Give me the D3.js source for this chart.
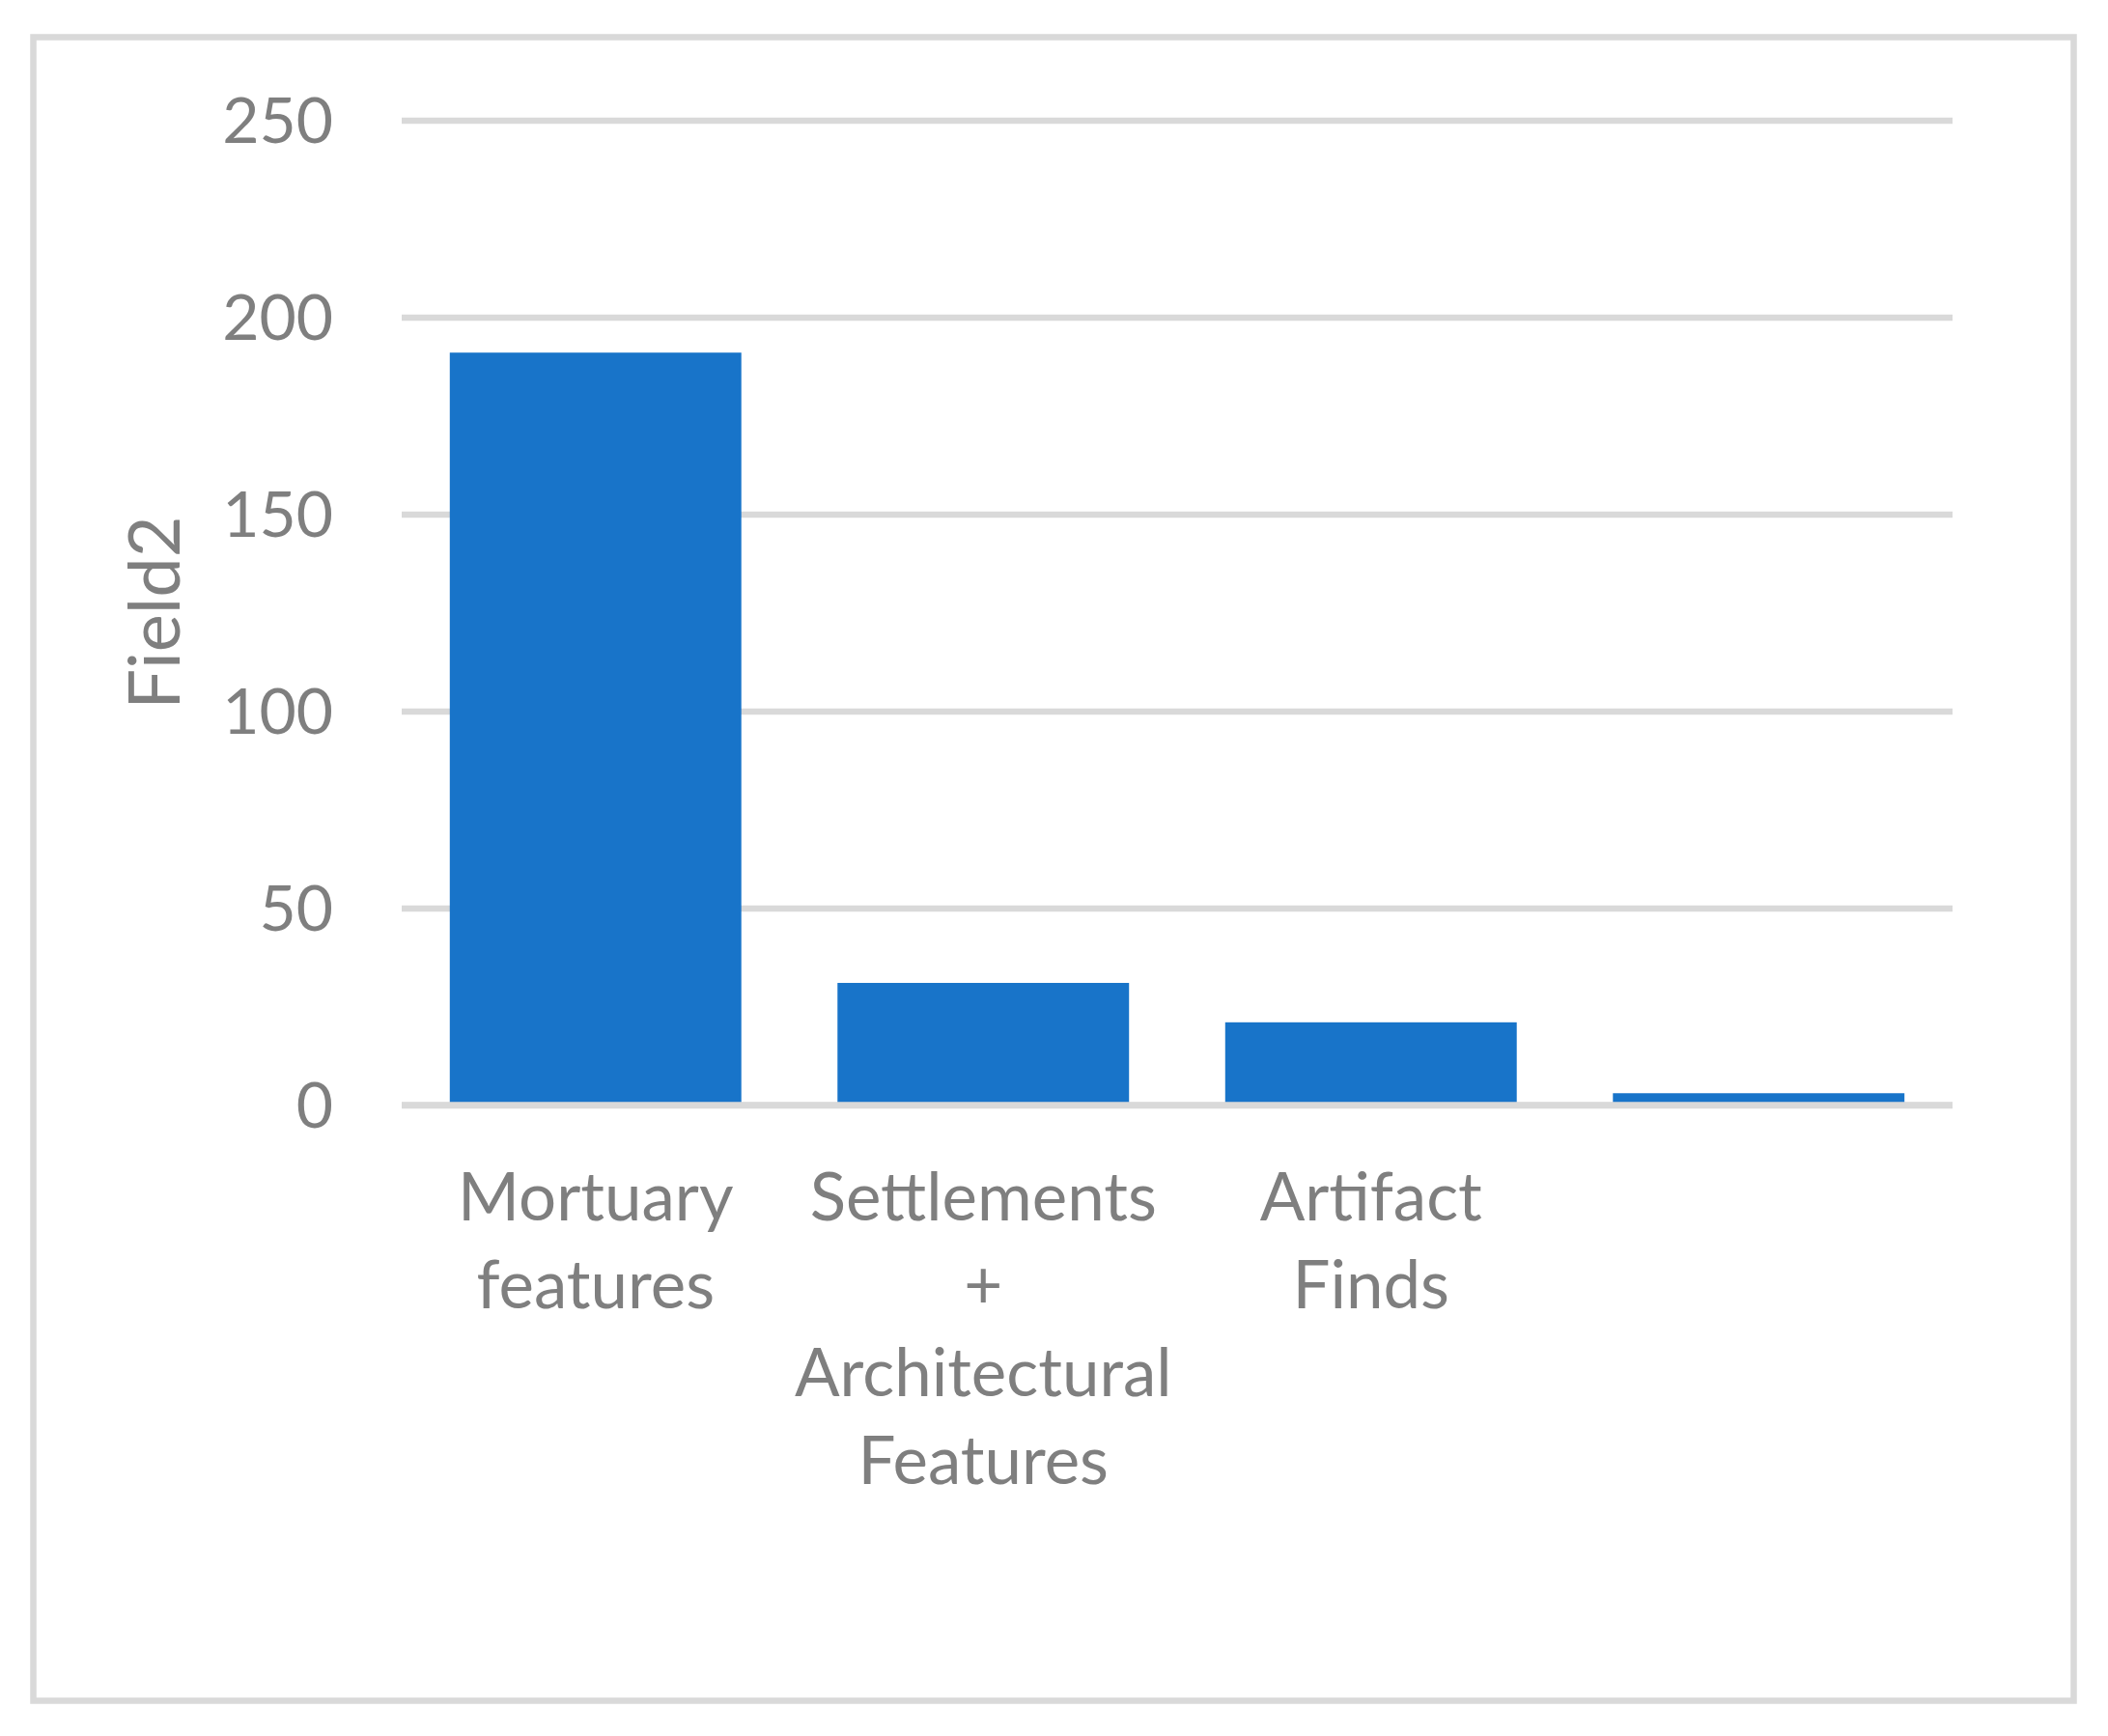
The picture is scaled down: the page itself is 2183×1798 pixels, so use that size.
<!DOCTYPE html>
<meta charset="utf-8">
<style>
  body { margin: 0; background: #fff; }
  text { font-family: Lato, "Open Sans", sans-serif; fill: #7f7f7f; }
</style>
<body>
  <div id="bar_chart"></div>
  <script src="https://d3js.org/d3.v7.min.js"></script>
  <script>
    // chart data
    var categories = [
      ["Mortuary", "features"],
      ["Settlements", "+", "Architectural", "Features"],
      ["Artifact", "Finds"],
      [""]
    ];
    var field2 = [191, 31, 21, 3];
    var yTicks = [0, 50, 100, 150, 200, 250];

    var W = 2183, H = 1798;

    var svg = d3.select("#bar_chart")
      .append("svg")
      .attr("width", W)
      .attr("height", H);

    // outer chart frame
    svg.append("rect")
      .attr("x", 34.5)
      .attr("y", 38.5)
      .attr("width", 2113)
      .attr("height", 1723)
      .style("fill", "none")
      .style("stroke", "#d9d9d9")
      .style("stroke-width", 6.5);

    var x = d3.scaleBand()
      .domain(d3.range(categories.length))
      .range([416, 2022])
      .paddingInner(0.248)
      .paddingOuter(0.124);

    var y = d3.scaleLinear()
      .domain([0, 250])
      .range([1144.5, 124.5]);

    // gridlines + tick labels (behind the bars)
    var yAxis = d3.axisLeft(y)
      .tickValues(yTicks)
      .tickSize(-(2022 - 416))
      .tickFormat(d3.format("d"));

    var gy = svg.append("g")
      .attr("class", "y axis")
      .attr("transform", "translate(416,0)")
      .call(yAxis);

    gy.select(".domain").remove();
    gy.selectAll(".tick line")
      .style("stroke", "#d9d9d9")
      .style("stroke-width", 6.5);
    gy.selectAll(".tick text")
      .attr("x", -71)
      .attr("dy", "0.35em")
      .style("font-size", "66px")
      .style("fill", "#7f7f7f");

    // bars
    svg.selectAll(".bar")
      .data(field2)
      .enter().append("rect")
      .attr("class", "bar")
      .attr("x", function(d, i) { return x(i); })
      .attr("y", function(d) { return y(d); })
      .attr("width", x.bandwidth())
      .attr("height", function(d) { return y(0) - y(d); })
      .style("fill", "#1874c9");

    // zero line sits on top of the bar feet
    svg.append("line")
      .attr("x1", 416)
      .attr("x2", 2022)
      .attr("y1", y(0))
      .attr("y2", y(0))
      .style("stroke", "#d9d9d9")
      .style("stroke-width", 6.5);

    // category labels, wrapped as in the source
    var xl = svg.selectAll(".xlabel")
      .data(categories)
      .enter().append("text")
      .attr("class", "xlabel")
      .attr("text-anchor", "middle")
      .style("font-size", "69px");

    xl.selectAll("tspan")
      .data(function(d, i) {
        return d.map(function(s) { return { s: s, i: i }; });
      })
      .enter().append("tspan")
      .attr("x", function(d) { return x(d.i) + x.bandwidth() / 2; })
      .attr("y", function(d, j) { return 1264 + j * 91; })
      .text(function(d) { return d.s; });

    // axis title
    svg.append("text")
      .attr("transform", "translate(186," + y(125) + ") rotate(-90)")
      .attr("text-anchor", "middle")
      .style("font-size", "74px")
      .text("Field2");
  </script>
</body>
